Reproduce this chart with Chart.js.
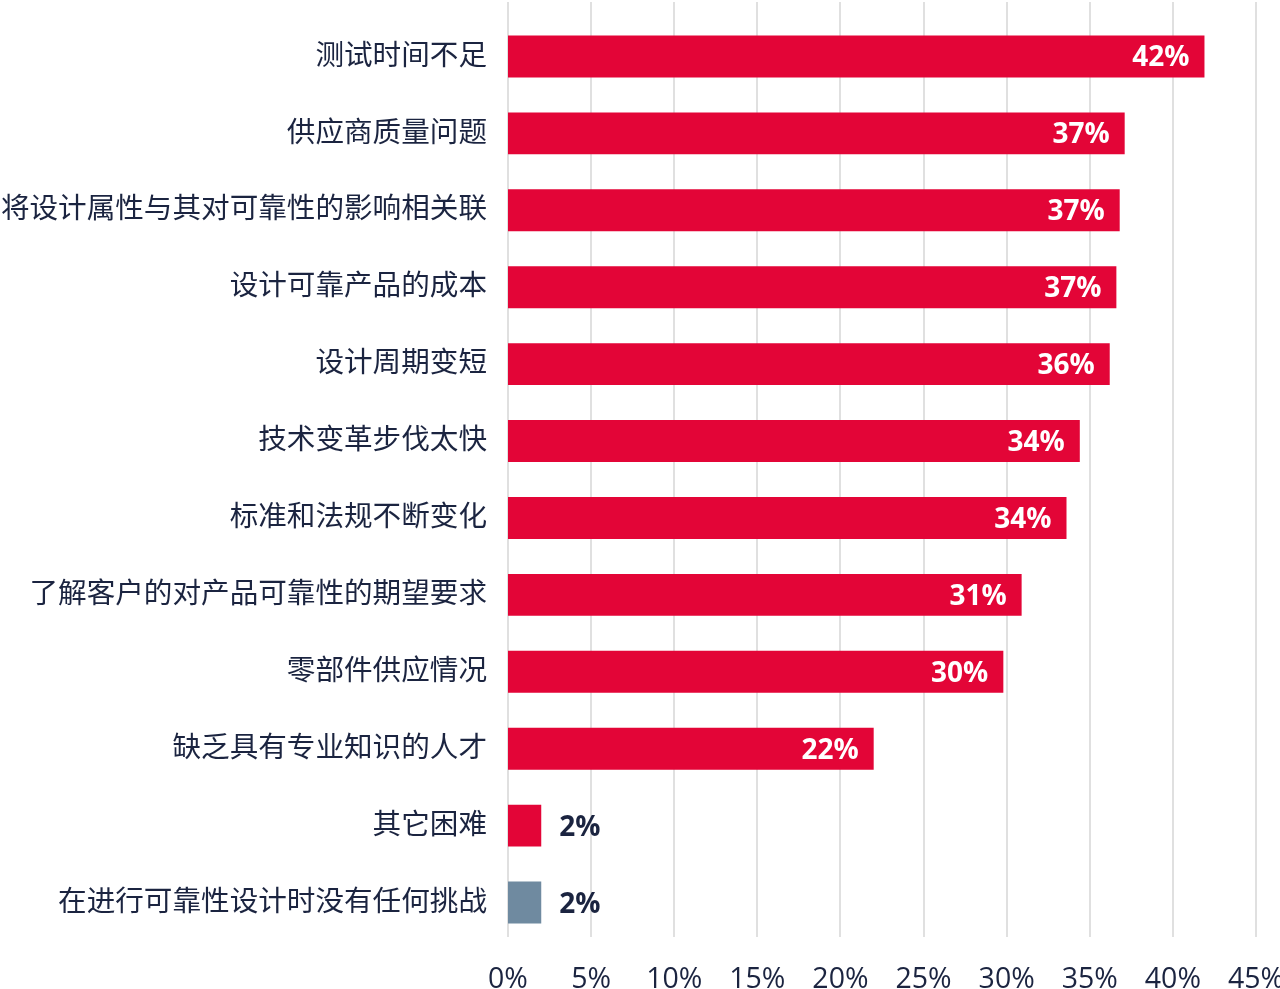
<!DOCTYPE html>
<html>
<head>
<meta charset="utf-8">
<script src="https://cdn.jsdelivr.net/npm/chart.js@4"></script>
<style>
  html, body { margin: 0; padding: 0; background: #fff; }
  #wrap { width: 1280px; height: 989px; position: relative; }
</style>
</head>
<body>
<div id="wrap"><canvas id="chart"></canvas></div>
<script>
const categories = [
  "测试时间不足",
  "供应商质量问题",
  "将设计属性与其对可靠性的影响相关联",
  "设计可靠产品的成本",
  "设计周期变短",
  "技术变革步伐太快",
  "标准和法规不断变化",
  "了解客户的对产品可靠性的期望要求",
  "零部件供应情况",
  "缺乏具有专业知识的人才",
  "其它困难",
  "在进行可靠性设计时没有任何挑战"
]
const values = [41.9, 37.1, 36.8, 36.6, 36.2, 34.4, 33.6, 30.9, 29.8, 22.0, 2.0, 2.0]
const valueLabels = ["42%", "37%", "37%", "37%", "36%", "34%", "34%", "31%", "30%", "22%", "2%", "2%"]
const barColors = values.map((v, i) => i === values.length - 1 ? "#6f8aa0" : "#e30537")

const textColor = "#1b2440"
const fontFamily = "'Open Sans', 'Noto Sans CJK SC', sans-serif"

// vertical grid lines run a bit past the bars at top and bottom
const gridPlugin = {
  id: "gridLines",
  beforeDatasetsDraw(chart) {
    const ctx = chart.ctx
    const x = chart.scales.x
    ctx.save()
    ctx.strokeStyle = "#e0e0e0"
    ctx.lineWidth = 2
    x.ticks.forEach(t => {
      const px = Math.round(x.getPixelForValue(t.value))
      ctx.beginPath()
      ctx.moveTo(px, 2)
      ctx.lineTo(px, 937)
      ctx.stroke()
    })
    ctx.restore()
  }
}

const valueLabelPlugin = {
  id: "valueLabels",
  afterDatasetsDraw(chart) {
    const ctx = chart.ctx
    const meta = chart.getDatasetMeta(0)
    ctx.save()
    ctx.font = "bold 28px " + fontFamily
    ctx.textBaseline = "middle"
    meta.data.forEach((bar, i) => {
      if (values[i] < 5) {
        ctx.fillStyle = textColor
        ctx.textAlign = "left"
        ctx.fillText(valueLabels[i], bar.x + 18, bar.y + 2)
      } else {
        ctx.fillStyle = "#ffffff"
        ctx.textAlign = "right"
        ctx.fillText(valueLabels[i], bar.x - 15, bar.y + 2)
      }
    })
    ctx.restore()
  }
}

const ctx = document.getElementById("chart").getContext("2d")
new Chart(ctx, {
  type: "bar",
  data: {
    labels: categories,
    datasets: [{
      data: values,
      backgroundColor: barColors,
      borderWidth: 0,
      barPercentage: 0.545,
      categoryPercentage: 1
    }]
  },
  options: {
    indexAxis: "y",
    responsive: true,
    maintainAspectRatio: false,
    animation: false,
    layout: { padding: { top: 18, right: 0, left: 0, bottom: 0 } },
    scales: {
      x: {
        min: 0,
        max: 45,
        ticks: {
          stepSize: 5,
          color: textColor,
          font: { family: fontFamily, size: 28.5 },
          padding: 22,
          callback: v => v + "%"
        },
        grid: { display: false, drawTicks: false },
        border: { display: false },
        afterFit: scale => {
          scale.height = 48
          scale.paddingLeft = 0
          scale.paddingRight = 24
        }
      },
      y: {
        ticks: {
          color: textColor,
          font: { family: fontFamily, size: 28.6 },
          padding: 21,
          autoSkip: false
        },
        grid: { display: false, drawTicks: false },
        border: { display: false },
        afterFit: scale => {
          scale.width = 508
          scale.paddingTop = 0
          scale.paddingBottom = 0
        }
      }
    },
    plugins: {
      legend: { display: false },
      tooltip: { enabled: false }
    }
  },
  plugins: [gridPlugin, valueLabelPlugin]
})
</script>
</body>
</html>
